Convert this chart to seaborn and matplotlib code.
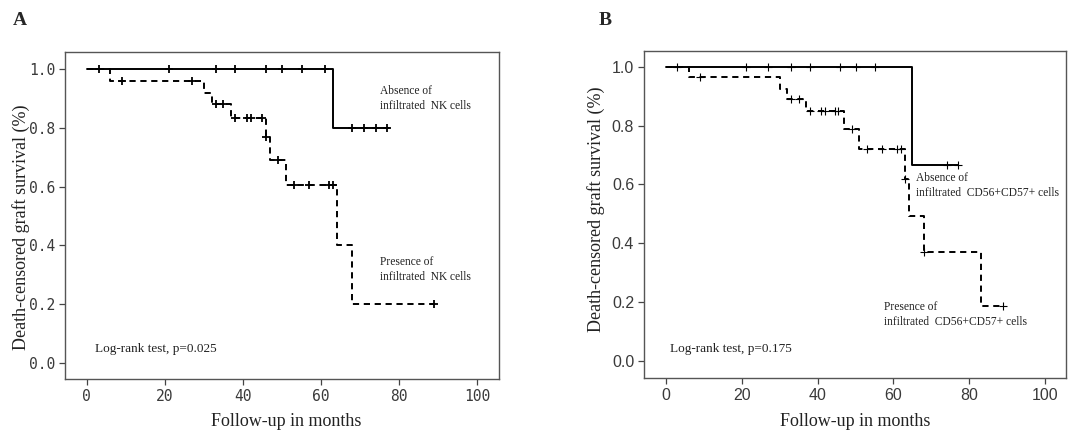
import numpy as np
import pandas as pd
import matplotlib
matplotlib.use("Agg")
import matplotlib.pyplot as plt
import seaborn as sns

# panel A - NK cells
a_abs_t = [0, 63, 77.5]
a_abs_s = [1.0, 0.80, 0.80]
a_abs_cens = [3, 21, 33, 38, 46, 50, 55, 61, 68, 71, 74, 77]
a_pre_t = [0, 6, 30, 32, 37, 46, 47, 51, 64, 68, 89]
a_pre_s = [1.0, 0.96, 0.92, 0.88, 0.833, 0.77, 0.69, 0.604, 0.403, 0.20, 0.20]
a_pre_cens = [9, 27, 33, 35, 38, 41, 42, 45, 46, 49, 53, 57, 62, 63, 89]

# panel B - CD56+CD57+ cells
b_abs_t = [0, 65, 77]
b_abs_s = [1.0, 0.666, 0.666]
b_abs_cens = [3, 21, 27, 33, 38, 46, 50, 55, 74, 77]
b_pre_t = [0, 6, 30, 32, 37, 47, 51, 63, 64, 68, 83, 89]
b_pre_s = [1.0, 0.965, 0.926, 0.89, 0.849, 0.79, 0.722, 0.617, 0.493, 0.371, 0.188, 0.188]
b_pre_cens = [9, 33, 35, 38, 41, 42, 44.6, 45.5, 49, 53, 57, 61, 62, 63, 68, 89]

sns.set_theme(style="white")
plt.rcParams['font.family'] = ['Liberation Serif', 'DejaVu Serif']

fig = plt.figure(figsize=(10.85, 4.32), dpi=100)
axA = fig.add_axes([0.0599, 0.1227, 0.400, 0.757])
axB = fig.add_axes([0.5935, 0.125, 0.389, 0.757])


def step_at(t, times, surv):
    idx = np.searchsorted(times, t, side='right') - 1
    return surv[idx]


def km(ax, t, s, cens, ls, msize, mew):
    df = pd.DataFrame({'t': t, 's': s})
    sns.lineplot(data=df, x='t', y='s', ax=ax, estimator=None, sort=False,
                 drawstyle='steps-post', color='black', lw=1.4, linestyle=ls)
    # censored cases sit on the step curve
    cy = [step_at(c, t, s) for c in cens]
    sns.scatterplot(x=cens, y=cy, ax=ax, marker='+', s=msize, color='black',
                    linewidth=mew, zorder=3)


dash = (0, (3.2, 2.4))
km(axA, a_abs_t, a_abs_s, a_abs_cens, '-', 38, 1.3)
km(axA, a_pre_t, a_pre_s, a_pre_cens, dash, 38, 1.3)
km(axB, b_abs_t, b_abs_s, b_abs_cens, '-', 32, 0.8)
km(axB, b_pre_t, b_pre_s, b_pre_cens, dash, 32, 0.8)

for ax, xl, yl in [(axA, (-5.6, 105.6), (-0.054, 1.058)),
                   (axB, (-5.8, 105.5), (-0.058, 1.054))]:
    ax.set_xlim(*xl)
    ax.set_ylim(*yl)
    ax.set_xticks([0, 20, 40, 60, 80, 100])
    ax.set_yticks([0.0, 0.2, 0.4, 0.6, 0.8, 1.0])
    ax.set_yticklabels(['0.0', '0.2', '0.4', '0.6', '0.8', '1.0'])
    ax.tick_params(axis='both', direction='out', length=4, width=0.9,
                   colors='#444444', left=True, bottom=True, pad=3)
    for sp in ax.spines.values():
        sp.set_color('#555555')
        sp.set_linewidth(1.0)
    ax.set_xlabel('Follow-up in months', fontsize=13, color='#222222')
    ax.set_ylabel('Death-censored graft survival (%)', fontsize=13, color='#222222')

for lab in axA.get_xticklabels() + axA.get_yticklabels():
    lab.set_fontfamily('DejaVu Sans Mono')
    lab.set_fontsize(10.5)
    lab.set_color('#3a3a3a')
for lab in axB.get_xticklabels() + axB.get_yticklabels():
    lab.set_fontfamily('Liberation Sans')
    lab.set_fontsize(11.5)
    lab.set_color('#3a3a3a')

axA.xaxis.set_label_coords(0.51, -0.105)
axA.yaxis.set_label_coords(-0.08, 0.465)
axB.xaxis.set_label_coords(0.50, -0.108)
axB.yaxis.set_label_coords(-0.093, 0.517)

tkw = dict(fontsize=8.3, color='#222222', va='center', ha='left', linespacing=1.35)
lkw = dict(fontsize=9.5, color='#222222', va='center', ha='left')
axA.text(75, 0.90, 'Absence of\ninfiltrated  NK cells', **tkw)
axA.text(75, 0.318, 'Presence of\ninfiltrated  NK cells', **tkw)
axA.text(2, 0.048, 'Log-rank test, p=0.025', **lkw)
axB.text(65.9, 0.598, 'Absence of\ninfiltrated  CD56+CD57+ cells', **tkw)
axB.text(57.5, 0.158, 'Presence of\ninfiltrated  CD56+CD57+ cells', **tkw)
axB.text(1.1, 0.041, 'Log-rank test, p=0.175', **lkw)

fig.text(0.012, 0.952, 'A', fontsize=14, fontweight='bold', va='center')
fig.text(0.552, 0.952, 'B', fontsize=14, fontweight='bold', va='center')

fig.savefig('out.png', dpi=100)
